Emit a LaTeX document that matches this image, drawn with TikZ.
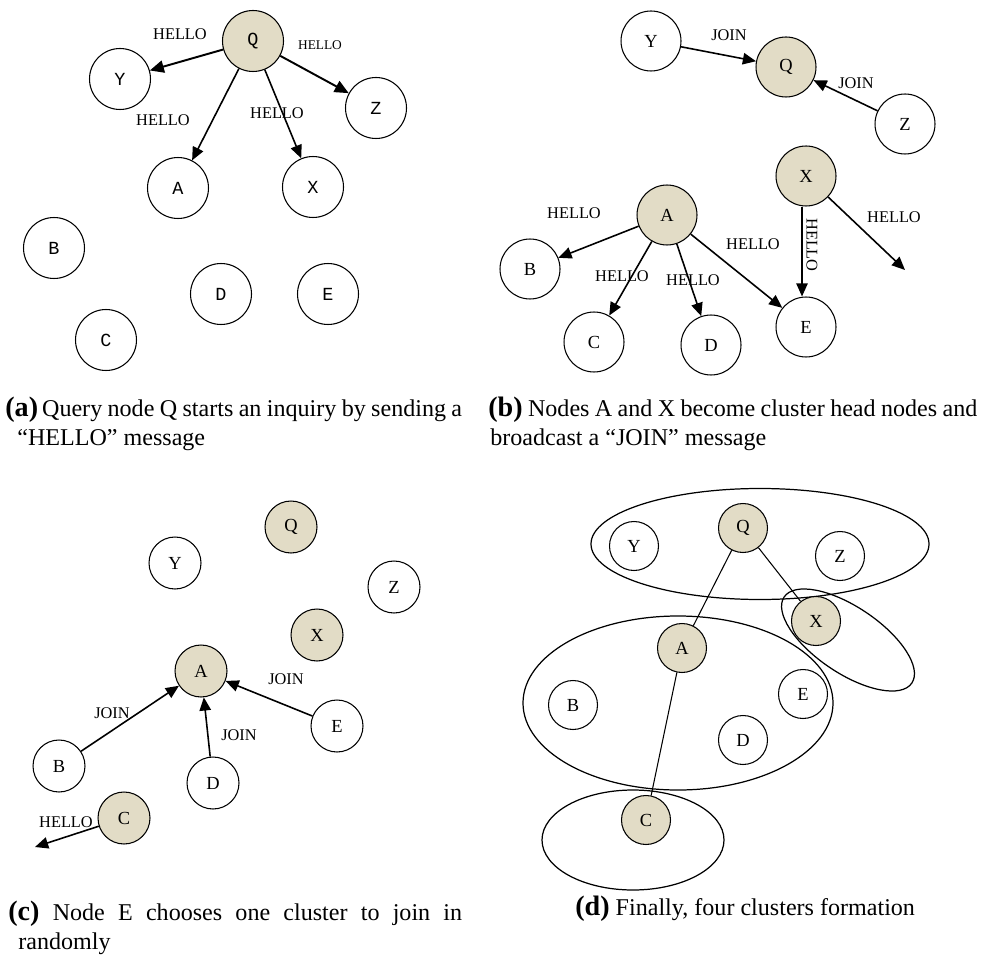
\documentclass[tikz,border=0pt]{standalone}
\usepackage{fontspec}
\setmainfont{Liberation Serif}
\newfontfamily\monofont{Liberation Mono}
\usetikzlibrary{arrows.meta}
\definecolor{headfill}{RGB}{226,220,198}
\newcommand\sublabel[1]{{\fontsize{16}{16}\selectfont\bfseries(#1)}}
\begin{document}
\begin{tikzpicture}[x=0.02cm,y=-0.02cm,
  nodeA/.style={circle,draw,fill=white,line width=0.6pt,inner sep=0pt,minimum size=1.22cm,
                font=\monofont\fontsize{10.5}{10.5}\selectfont},
  nodeB/.style={circle,draw,fill=white,line width=0.6pt,inner sep=0pt,minimum size=1.2cm,
                font=\fontsize{10.5}{10.5}\selectfont},
  nodeC/.style={nodeB,minimum size=1.04cm},
  nodeD/.style={nodeB,minimum size=0.98cm},
  chead/.style={fill=headfill},
  msg/.style={-{Triangle[length=7.5pt,width=6.5pt]},line width=0.9pt},
  msgbold/.style={msg,line width=1.1pt,-{Triangle[length=8pt,width=7pt]}},
  lbl/.style={inner sep=0pt,font=\fontsize{9.3}{9.3}\selectfont},
  tie/.style={line width=0.6pt},
  cluster/.style={draw,line width=0.7pt},
  capt/.style={anchor=base west,inner sep=0pt,font=\fontsize{13.7}{16}\selectfont},
]
\useasboundingbox (0,0) rectangle (983,959);

% ---------------- (a) query node Q sends HELLO ----------------
\node[nodeA,chead] (aQ) at (253,41) {Q};
\node[nodeA] (aY) at (120,79) {Y};
\node[nodeA] (aZ) at (376,108) {Z};
\node[nodeA] (aA) at (178,188) {A};
\node[nodeA] (aX) at (313,187) {X};
\node[nodeA] (aB) at (54,248) {B};
\node[nodeA] (aD) at (221,294) {D};
\node[nodeA] (aE) at (328,294) {E};
\node[nodeA] (aC) at (106,340) {C};
\draw[msgbold] (aQ) -- (aY);
\draw[msgbold] (aQ) -- (aZ);
\draw[msg] (aQ) -- (aA);
\draw[msg] (aQ) -- (aX);
\node[lbl] (aL1) at (180,34) {HELLO};
\node[lbl,font=\fontsize{7.6}{7.6}\selectfont] (aL2) at (320,45) {HELLO};
\node[lbl] (aL3) at (163,120) {HELLO};
\node[lbl] (aL4) at (277,113) {HELLO};

% ---------------- (b) cluster heads A and X ----------------
\node[nodeB] (bY) at (651,41) {Y};
\node[nodeB,chead] (bQ) at (786,67) {Q};
\node[nodeB] (bZ) at (905,124) {Z};
\node[nodeB,chead] (bX) at (806,176) {X};
\node[nodeB,chead] (bA) at (667,215) {A};
\node[nodeB] (bB) at (530,269) {B};
\node[nodeB] (bC) at (594,342) {C};
\node[nodeB] (bD) at (711,345) {D};
\node[nodeB] (bE) at (806,327) {E};
\coordinate (bOut) at (905,270);
\draw[msg] (bY) -- (bQ);
\draw[msg] (bZ) -- (bQ);
\draw[msg] (bA) -- (bB);
\draw[msg] (bA) -- (bC);
\draw[msg] (bA) -- (bD);
\draw[msg] (bA) -- (bE);
\draw[msg] (bX.south) ++(-4,0) coordinate (bXs) -- (bXs |- bE.north);
\draw[msg] (bX) -- (bOut);
\node[lbl] (bL1) at (729,35) {JOIN};
\node[lbl] (bL2) at (856,83) {JOIN};
\node[lbl] (bL3) at (574,213) {HELLO};
\node[lbl] (bL4) at (622,276) {HELLO};
\node[lbl] (bL5) at (693,280) {HELLO};
\node[lbl] (bL6) at (753,244) {HELLO};
\node[lbl,rotate=-90] (bL7) at (812,245) {HELLO};
\node[lbl] (bL8) at (894,217) {HELLO};

% ---------------- (c) members join a cluster ----------------
\node[nodeC,chead] (cQ) at (291,527) {Q};
\node[nodeC] (cY) at (175,563) {Y};
\node[nodeC] (cZ) at (394,587) {Z};
\node[nodeC,chead] (cX) at (317,635) {X};
\node[nodeC,chead] (cA) at (201,671) {A};
\node[nodeC] (cE) at (337,726) {E};
\node[nodeC] (cB) at (59,766) {B};
\node[nodeC] (cD) at (213,783) {D};
\node[nodeC,chead] (cC) at (124,818) {C};
\coordinate (cOut) at (35,847);
\draw[msg] (cB) -- (cA);
\draw[msg] (cD) -- (cA);
\draw[msg] (cE) -- (cA);
\draw[msg] (cC) -- (cOut);
\node[lbl] (cL1) at (112,713) {JOIN};
\node[lbl] (cL2) at (239,735) {JOIN};
\node[lbl] (cL3) at (286,679) {JOIN};
\node[lbl] (cL4) at (66,822) {HELLO};

% ---------------- (d) resulting clusters ----------------
\draw[cluster] (760,544) ellipse [x radius=169, y radius=55.5];
\draw[cluster] (678,703) ellipse [x radius=155, y radius=87];
\draw[cluster, rotate around={-34:(848,640)}] (848,640) ellipse [x radius=77, y radius=33];
\draw[cluster] (633,840) ellipse [x radius=91, y radius=50];
\node[nodeD] (dY) at (634,546) {Y};
\node[nodeD,chead] (dQ) at (743,528) {Q};
\node[nodeD] (dZ) at (840,556) {Z};
\node[nodeD,chead] (dX) at (816,621) {X};
\node[nodeD,chead] (dA) at (682,648) {A};
\node[nodeD] (dB) at (573,705) {B};
\node[nodeD] (dE) at (803,694) {E};
\node[nodeD] (dD) at (743,740) {D};
\node[nodeD,chead] (dC) at (646,820) {C};
\draw[tie] (dQ) -- (dA);
\draw[tie] (dQ) -- (dX);
\draw[tie] (dA) -- (dC);

% ---------------- captions ----------------
\node[capt] (capA1) at (5,416) {\makebox[260pt][s]{\sublabel{a}\,Query node Q starts an inquiry by sending a}};
\node[capt] (capA2) at (17,445) {“HELLO” message};
\node[capt] (capB1) at (488,416) {\makebox[278.3pt][s]{\sublabel{b} Nodes A and X become cluster head nodes and}};
\node[capt] (capB2) at (490,445) {broadcast a “JOIN” message};
\node[capt] (capC1) at (8,920) {\makebox[258.3pt][s]{\sublabel{c} Node E chooses one cluster to join in}};
\node[capt] (capC2) at (18,949) {randomly};
\node[capt] (capD) at (575,915) {\sublabel{d} Finally, four clusters formation};
\end{tikzpicture}
\end{document}
